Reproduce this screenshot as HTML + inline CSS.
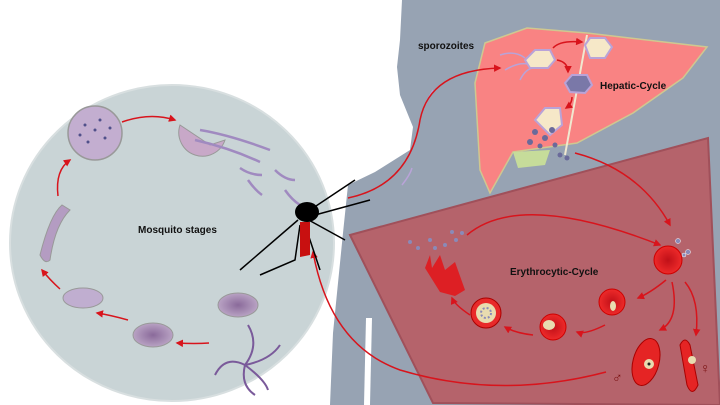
<!DOCTYPE html>
<html><head><meta charset="utf-8"><style>
html,body{margin:0;padding:0;background:#fff;width:720px;height:405px;overflow:hidden}
svg{display:block}
text{font-family:"Liberation Sans",sans-serif;font-weight:bold;fill:#111}
</style></head><body>
<svg width="720" height="405" viewBox="0 0 720 405" xmlns="http://www.w3.org/2000/svg">
<defs>
<marker id="a" viewBox="0 0 10 10" refX="8" refY="5" markerWidth="5" markerHeight="5" orient="auto"><path d="M0,0L10,5L0,10z" fill="#d8141c"/></marker>
<radialGradient id="rc"><stop offset="0" stop-color="#c01018"/><stop offset="1" stop-color="#ee2a2a"/></radialGradient>
<radialGradient id="pc"><stop offset="0" stop-color="#8a6a9a"/><stop offset="1" stop-color="#b9a3c4"/></radialGradient>
</defs>
<!-- silhouette -->
<path d="M402,0 L720,0 L720,405 L330,405 L333,333 L343,233 L348,185 L375,172 L410,150 L413,127 L400,95 L397,67 L400,40 Z" fill="#97a3b3"/>
<path d="M366,318 L372,318 L370,405 L364,405 Z" fill="#fff"/>
<!-- mosquito circle -->
<ellipse cx="172" cy="243" rx="162" ry="158" fill="#c9d4d6" stroke="#d8dfe0" stroke-width="2"/>
<!-- red square -->
<path d="M350,235 L708,138 L720,405 L433,403 Z" fill="#b5636b" stroke="#a0505a" stroke-width="2"/>
<!-- liver -->
<path d="M485,43 L527,28 L587,33 L707,47 L683,78 L633,113 L577,143 L527,150 L513,152 L490,193 L480,170 L475,83 Z" fill="#f98383" stroke="#cfc890" stroke-width="1.5"/>
<path d="M513,152 L550,150 L545,165 L518,168 Z" fill="#c6dc9a"/>
<line x1="587" y1="35" x2="565" y2="155" stroke="#f0e8d0" stroke-width="2"/>
<!-- hepatic cells -->
<path d="M525,60 L535,50 L550,50 L555,60 L548,68 L530,68 Z" fill="#f6e8c8" stroke="#b9a3d8" stroke-width="2"/>
<path d="M585,45 L590,38 L605,38 L612,47 L605,58 L590,58 Z" fill="#f6e8c8" stroke="#b9a3d8" stroke-width="2"/>
<path d="M565,83 L572,75 L587,75 L592,85 L585,93 L570,92 Z" fill="#7a78a8" stroke="#b9a3d8" stroke-width="2"/>
<path d="M535,120 L545,108 L560,108 L562,125 L550,135 Z" fill="#f6e8c8" stroke="#b9a3d8" stroke-width="2"/>
<g fill="#6a6a9a"><circle cx="535" cy="132" r="3"/><circle cx="545" cy="138" r="3"/><circle cx="530" cy="142" r="3"/><circle cx="552" cy="130" r="3"/><circle cx="540" cy="146" r="2.5"/><circle cx="560" cy="155" r="2.5"/><circle cx="567" cy="158" r="2.5"/><circle cx="555" cy="145" r="2.5"/></g>
<g stroke="#b9a3d8" stroke-width="1.5" fill="none"><path d="M500,55 Q515,50 525,58"/><path d="M505,70 Q518,62 528,64"/><path d="M520,80 Q525,70 532,68"/><path d="M425,105 Q430,95 433,90"/><path d="M402,185 Q410,175 412,168"/></g>
<g fill="none" stroke="#d8141c" stroke-width="1.5" marker-end="url(#a)">
<path d="M553,48 Q560,40 582,42"/><path d="M557,60 Q568,62 568,72"/><path d="M572,97 Q572,104 566,108"/>
<path d="M348,198 Q410,185 420,120 Q430,70 500,68"/>
<path d="M575,153 Q640,170 670,225"/>
<path d="M467,235 Q520,190 660,245"/>
<path d="M666,280 Q650,293 638,298"/>
<path d="M605,325 Q585,335 577,332"/>
<path d="M533,335 Q515,333 505,327"/>
<path d="M470,315 Q455,305 452,298"/>
<path d="M672,282 Q680,320 660,330"/>
<path d="M685,282 Q700,300 696,335"/>
<path d="M606,372 Q500,400 400,370 Q330,345 313,252"/>
<path d="M122,122 Q150,112 175,120"/><path d="M58,196 Q55,170 70,160"/><path d="M60,289 Q50,280 42,270"/><path d="M128,320 Q110,315 97,313"/><path d="M209,343 Q195,344 177,343"/>
</g>
<!-- erythrocytes -->
<circle cx="668" cy="260" r="14" fill="url(#rc)" stroke="#c00" />
<g fill="#8a8ab8" stroke="#fff" stroke-width=".5"><circle cx="678" cy="241" r="2.5"/><circle cx="688" cy="252" r="2.5"/><circle cx="684" cy="255" r="2"/></g>
<circle cx="612" cy="302" r="13" fill="url(#rc)" stroke="#c00"/><ellipse cx="613" cy="306" rx="3" ry="5" fill="#e8dcb0"/>
<circle cx="553" cy="327" r="13" fill="url(#rc)" stroke="#c00"/><ellipse cx="549" cy="325" rx="6" ry="5" fill="#e8dcb0"/>
<circle cx="486" cy="313" r="15" fill="#e82a2a" stroke="#a00"/><circle cx="486" cy="313" r="10" fill="#e8dcb0"/><circle cx="486" cy="313" r="5" fill="none" stroke="#8a8ab8" stroke-width="2" stroke-dasharray="2 2"/>
<path d="M425,268 L430,255 L432,268 L440,255 L445,270 L455,262 L465,290 L455,296 L440,292 Z" fill="#dd1f24"/>
<g fill="#8a8ab8"><circle cx="410" cy="242" r="2"/><circle cx="418" cy="248" r="2"/><circle cx="430" cy="240" r="2"/><circle cx="435" cy="248" r="2"/><circle cx="452" cy="232" r="2"/><circle cx="456" cy="240" r="2"/><circle cx="462" cy="233" r="2"/><circle cx="445" cy="245" r="2"/></g>
<ellipse cx="646" cy="362" rx="13" ry="24" transform="rotate(15 646 362)" fill="#e52424" stroke="#a00"/><circle cx="649" cy="364" r="5" fill="#e8dcb0"/><circle cx="649" cy="364" r="1.5" fill="#222"/>
<path d="M680,345 Q685,335 690,345 L698,385 Q692,398 687,385 Z" fill="#e52424" stroke="#a00"/><circle cx="692" cy="360" r="4" fill="#e8dcb0"/>
<text x="612" y="382" style="font-size:14px;fill:#7a1010">♂</text><text x="700" y="373" style="font-size:14px;fill:#7a1010">♀</text>
<!-- mosquito stages -->
<circle cx="95" cy="133" r="27" fill="#c3aed0" stroke="#999" stroke-width="1.5"/>
<g fill="#50508a"><circle cx="85" cy="125" r="1.5"/><circle cx="95" cy="130" r="1.5"/><circle cx="105" cy="138" r="1.5"/><circle cx="88" cy="142" r="1.5"/><circle cx="100" cy="120" r="1.5"/><circle cx="110" cy="128" r="1.5"/><circle cx="80" cy="135" r="1.5"/></g>
<path d="M180,125 A23 23 0 1 0 225,140 L210,145 Z" fill="#c8a8c8" stroke="#999"/>
<g stroke="#a08ac0" stroke-width="2.5" fill="none"><path d="M200,130 Q230,135 270,150"/><path d="M195,140 Q230,148 260,162"/><path d="M240,168 Q250,175 262,175"/><path d="M248,180 Q255,190 262,195"/><path d="M275,170 Q285,180 295,180"/><path d="M285,190 Q292,200 300,205"/></g>
<path d="M62,205 Q50,215 40,255 Q45,265 50,260 Q55,225 70,210 Z" fill="#b49cc2" stroke="#999"/>
<ellipse cx="83" cy="298" rx="20" ry="10" fill="#c0aed0" stroke="#999"/>
<ellipse cx="153" cy="335" rx="20" ry="12" fill="url(#pc)" stroke="#999"/>
<ellipse cx="238" cy="305" rx="20" ry="12" fill="url(#pc)" stroke="#999"/>
<g stroke="#7a5a9a" stroke-width="2" fill="none"><path d="M245,365 Q225,355 215,375"/><path d="M245,365 Q260,345 248,325"/><path d="M245,365 Q270,360 280,345"/><path d="M245,365 Q240,385 255,395"/><path d="M245,365 Q265,380 268,390"/></g>
<!-- mosquito -->
<g stroke="#000" stroke-width="1.5" fill="none"><path d="M310,210 L355,180"/><path d="M315,215 L370,200"/><path d="M305,218 L345,240"/><path d="M300,225 L295,260 L260,275"/><path d="M305,225 L320,270"/><path d="M298,220 L240,270"/></g>
<ellipse cx="307" cy="212" rx="12" ry="10" fill="#000"/>
<path d="M300,222 L310,222 L310,255 L300,257 Z" fill="#c81010"/>
<!-- labels -->
<text x="418" y="49" style="font-size:10px">sporozoites</text>
<text x="600" y="89" style="font-size:10px">Hepatic-Cycle</text>
<text x="138" y="233" style="font-size:10px">Mosquito stages</text>
<text x="510" y="275" style="font-size:10px">Erythrocytic-Cycle</text>
</svg>
</body></html>
